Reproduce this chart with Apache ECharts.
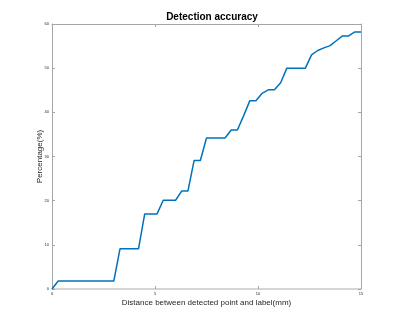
<!DOCTYPE html>
<html>
<head>
<meta charset="utf-8">
<script src="https://cdn.jsdelivr.net/npm/echarts@6/dist/echarts.min.js"></script>
<style>
  html, body { margin: 0; padding: 0; background: #fff; }
  #main { width: 400px; height: 325px; }
</style>
</head>
<body>
<div id="main"></div>
<script>
// distance (mm) and detection percentage
var distance = [0, 0.3, 3.0, 3.3, 4.2, 4.5, 5.1, 5.4, 6.0, 6.3, 6.6, 6.9, 7.2, 7.5,
  8.4, 8.7, 9.0, 9.3, 9.6, 9.9, 10.2, 10.5, 10.8, 11.1, 11.4, 12.3, 12.6, 12.9,
  13.2, 13.5, 13.8, 14.1, 14.4, 14.7, 15.0];
var percent = [0, 1.8, 1.8, 9.1, 9.1, 17.0, 17.0, 20.1, 20.1, 22.2, 22.2, 29.1, 29.1, 34.2,
  34.2, 36.0, 36.0, 39.2, 42.6, 42.6, 44.3, 45.1, 45.1, 46.7, 50.0, 50.0, 53.0, 54.0,
  54.6, 55.1, 56.2, 57.3, 57.3, 58.2, 58.2];
var xTicks = [0, 5, 10, 15];
var yTicks = [0, 10, 20, 30, 40, 50, 60];

var seriesData = [];
for (var i = 0; i < distance.length; i++) {
  seriesData.push([distance[i], percent[i]]);
}

var axisGray = '#a6a6a6';
var textGray = '#262626';

var myChart = echarts.init(document.getElementById('main'));
var option = {
  animation: false,
  backgroundColor: '#fff',
  title: {
    text: 'Detection accuracy',
    left: 207,
    top: 7,
    textAlign: 'center',
    textStyle: {
      fontFamily: 'Liberation Sans',
      fontSize: 10,
      fontWeight: 'bold',
      color: '#000'
    }
  },
  grid: {
    left: 52,
    right: 39,
    top: 24,
    bottom: 36
  },
  xAxis: [
    {
      type: 'value',
      min: xTicks[0],
      max: xTicks[xTicks.length - 1],
      interval: 5,
      name: 'Distance between detected point and label(mm)',
      nameLocation: 'middle',
      nameGap: 10,
      nameMoveOverlap: false,
      nameTextStyle: { fontFamily: 'Liberation Sans', fontSize: 8, color: textGray },
      axisLine: { onZero: false, lineStyle: { color: '#c8c8c8', width: 1.5 } },
      axisTick: { inside: true, length: 3, lineStyle: { color: axisGray } },
      axisLabel: { fontFamily: 'Liberation Sans', fontSize: 4, color: textGray, margin: 3 },
      splitLine: { show: false }
    },
    {
      type: 'value',
      position: 'top',
      min: xTicks[0],
      max: xTicks[xTicks.length - 1],
      interval: 5,
      axisLine: { show: true, onZero: false, lineStyle: { color: axisGray, width: 1 } },
      axisTick: { show: true, inside: true, length: 3, lineStyle: { color: axisGray } },
      axisLabel: { show: false },
      splitLine: { show: false }
    }
  ],
  yAxis: [
    {
      type: 'value',
      min: yTicks[0],
      max: yTicks[yTicks.length - 1],
      interval: 10,
      name: 'Percentage(%)',
      nameLocation: 'middle',
      nameGap: 8,
      nameMoveOverlap: false,
      nameTextStyle: { fontFamily: 'Liberation Sans', fontSize: 8, color: textGray },
      axisLine: { show: true, onZero: false, lineStyle: { color: axisGray, width: 1 } },
      axisTick: { show: true, inside: true, length: 3, lineStyle: { color: axisGray } },
      axisLabel: { fontFamily: 'Liberation Sans', fontSize: 4, color: textGray, margin: 3 },
      splitLine: { show: false }
    },
    {
      type: 'value',
      position: 'right',
      min: yTicks[0],
      max: yTicks[yTicks.length - 1],
      interval: 10,
      axisLine: { show: true, onZero: false, lineStyle: { color: axisGray, width: 1 } },
      axisTick: { show: true, inside: true, length: 3, lineStyle: { color: axisGray } },
      axisLabel: { show: false },
      splitLine: { show: false }
    }
  ],
  series: [
    {
      name: 'accuracy',
      type: 'line',
      xAxisIndex: 0,
      yAxisIndex: 0,
      data: seriesData,
      showSymbol: false,
      lineStyle: { color: '#0072BD', width: 1.5 },
      itemStyle: { color: '#0072BD' }
    }
  ]
};
myChart.setOption(option);
</script>
</body>
</html>
